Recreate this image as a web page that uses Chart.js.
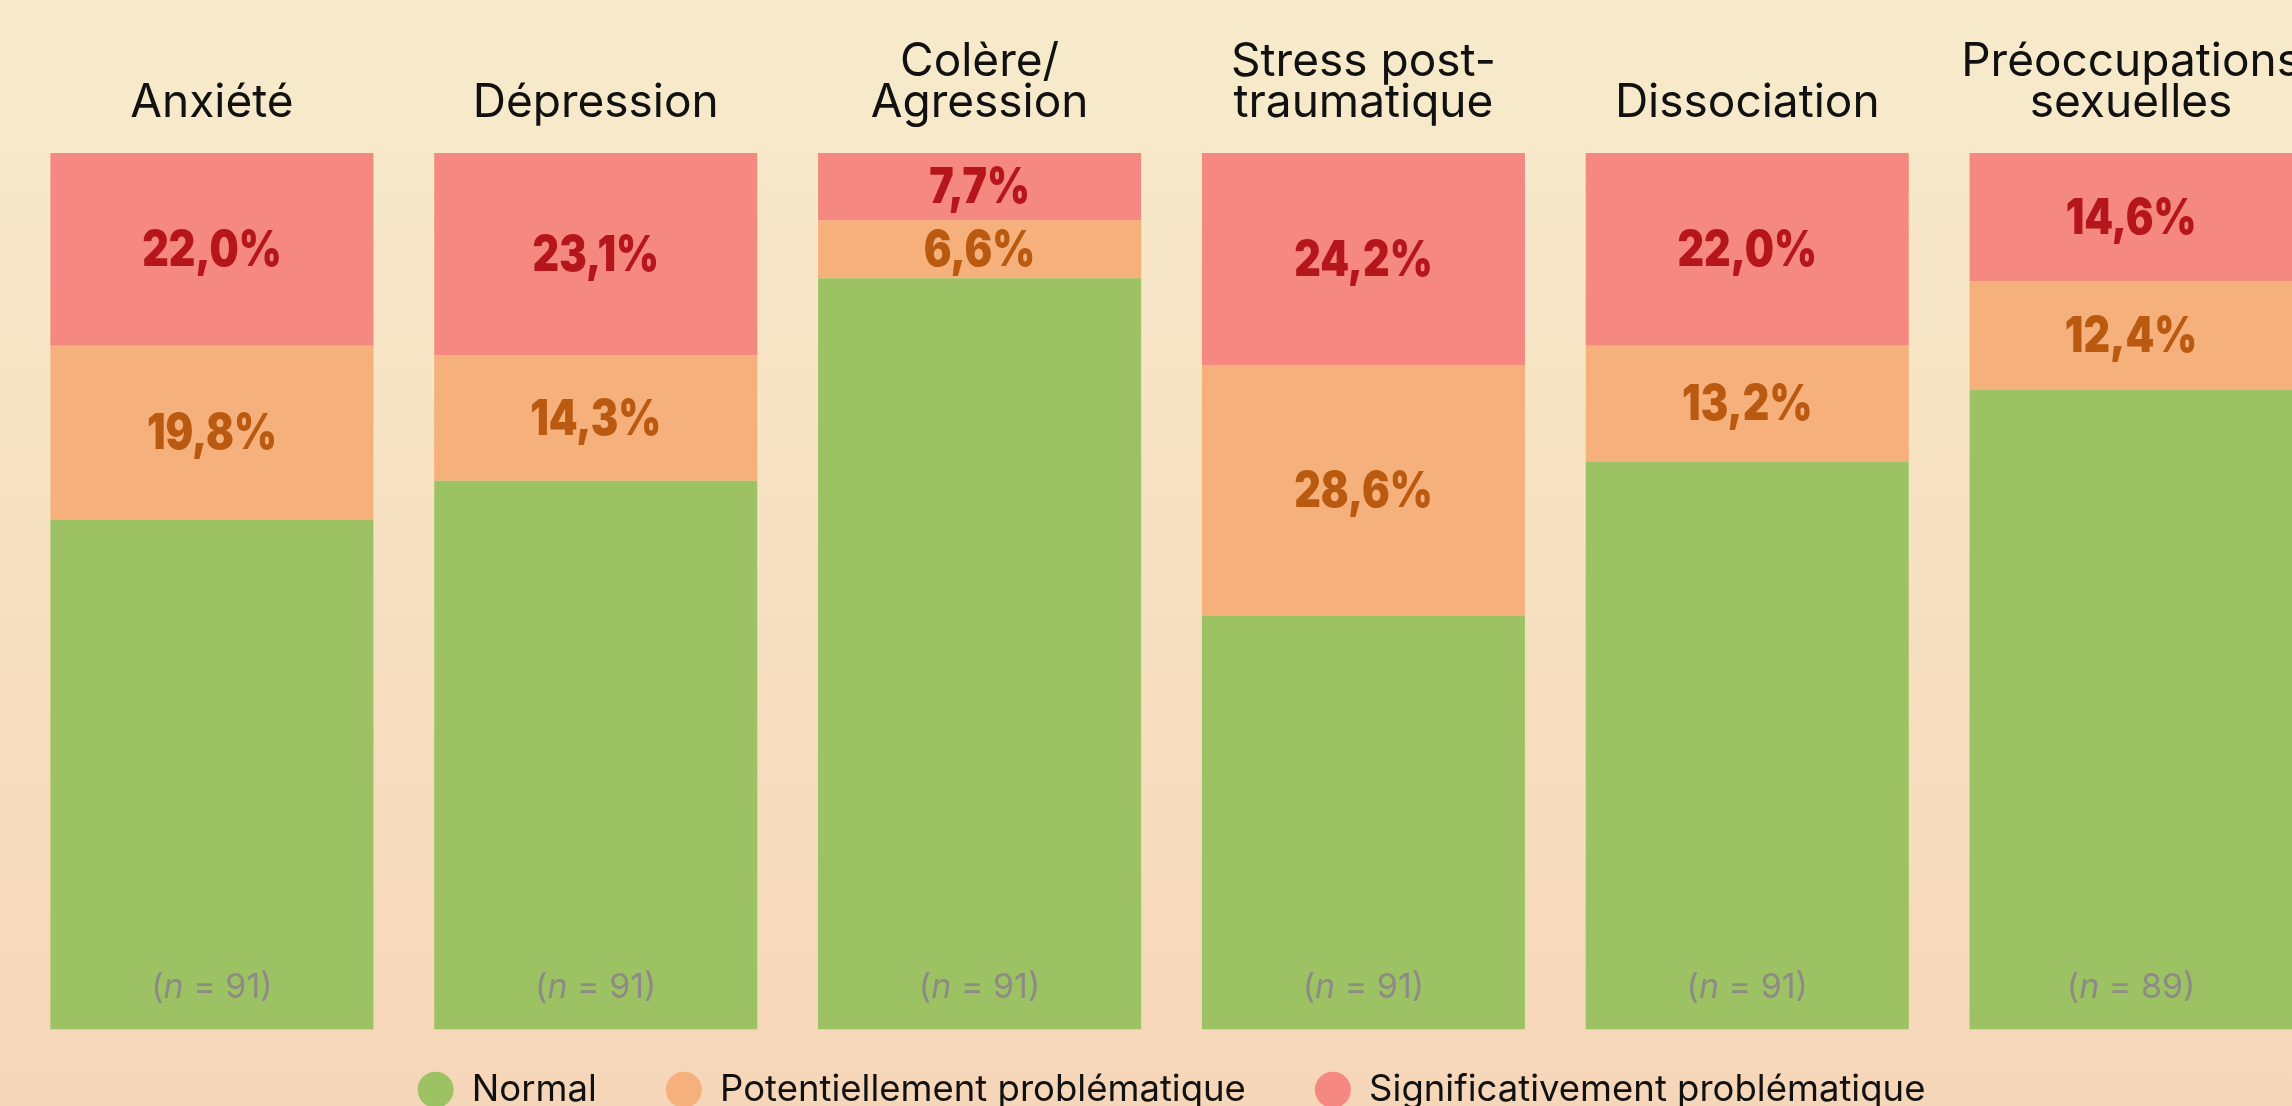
<!DOCTYPE html>
<html lang="fr">
<head>
<meta charset="utf-8">
<title>Problèmes de santé mentale</title>
<script src="https://cdn.jsdelivr.net/npm/chart.js@4.4.1/dist/chart.umd.min.js"></script>
<style>
  html, body { margin: 0; padding: 0; overflow: hidden; }
  body {
    width: 2292px; height: 1106px;
    background: linear-gradient(#f7ebcc 0%, #f6e3c4 40%, #f6d6b8 100%);
  }
  #wrap { width: 2332px; height: 1145px; }
</style>
</head>
<body>
<div id="wrap"><canvas id="chart" width="2332" height="1145"></canvas></div>
<script>
// Catégories (titres sur deux lignes quand il le faut)
const categories = [
    ['Anxiété'],
    ['Dépression'],
    ['Colère/', 'Agression'],
    ['Stress post-', 'traumatique'],
    ['Dissociation'],
    ['Préoccupations', 'sexuelles']
];

// Pourcentages par niveau
const normal = [58.2, 62.6, 85.7, 47.2, 64.8, 73.0];
const potentiel = [19.8, 14.3, 6.6, 28.6, 13.2, 12.4];
const significatif = [22.0, 23.1, 7.7, 24.2, 22.0, 14.6];

// Taille d'échantillon
const effectifs = [91, 91, 91, 91, 91, 89];

const seriesLabels = ['Normal', 'Potentiellement problématique', 'Significativement problématique'];
const fillColors = ['#9cc264', '#f5b07b', '#f58880'];
const textColors = [null, '#b95a10', '#b5161b'];

const fmt = v => v.toFixed(1).replace('.', ',') + '%';

// Pourcentages écrits au centre des segments orange et rouge (police resserrée)
const segmentLabels = {
    id: 'segmentLabels',
    afterDatasetsDraw(chart) {
        const ctx = chart.ctx;
        chart.data.datasets.forEach((ds, i) => {
            if (!textColors[i]) return;
            chart.getDatasetMeta(i).data.forEach((bar, j) => {
                ctx.save();
                ctx.translate(bar.x, (bar.y + bar.base) / 2 + 2);
                ctx.scale(0.84, 1);
                ctx.font = '900 49px Inter, "DejaVu Sans", sans-serif';
                ctx.textAlign = 'center';
                ctx.textBaseline = 'middle';
                ctx.fillStyle = textColors[i];
                ctx.fillText(fmt(ds.data[j]), 0, 0);
                ctx.restore();
            });
        });
    }
};

// (n = ..) en bas de chaque barre
const sampleLabels = {
    id: 'sampleLabels',
    afterDatasetsDraw(chart) {
        const ctx = chart.ctx;
        const yBase = chart.scales.y.getPixelForValue(0) - 42;
        ctx.save();
        ctx.textBaseline = 'middle';
        ctx.textAlign = 'left';
        ctx.fillStyle = '#8e8b86';
        chart.getDatasetMeta(0).data.forEach((bar, j) => {
            const parts = [
                ['34px Inter, sans-serif', '('],
                ['italic 34px Inter, sans-serif', 'n'],
                ['34px Inter, sans-serif', ' = ' + effectifs[j] + ')']
            ];
            let total = 0;
            parts.forEach(p => { ctx.font = p[0]; total += ctx.measureText(p[1]).width; });
            let x = bar.x - total / 2;
            parts.forEach(p => {
                ctx.font = p[0];
                ctx.fillText(p[1], x, yBase);
                x += ctx.measureText(p[1]).width;
            });
        });
        ctx.restore();
    }
};

// remonte la légende sous les barres
const legendLift = {
    id: 'legendLift',
    afterLayout(chart) {
        const lg = chart.legend;
        lg.top -= 27;
        lg.bottom -= 27;
    }
};

const ctx = document.getElementById('chart').getContext('2d');
const chart = new Chart(ctx, {
    type: 'bar',
    data: {
        labels: categories,
        datasets: [normal, potentiel, significatif].map((d, i) => ({
            label: seriesLabels[i],
            data: d,
            backgroundColor: fillColors[i],
            borderWidth: 0,
            barPercentage: 0.8416,
            categoryPercentage: 1
        }))
    },
    options: {
        responsive: false,
        animation: false,
        devicePixelRatio: 1,
        layout: { padding: { left: 20, top: 13, right: 9, bottom: 0 } },
        scales: {
            x: {
                position: 'top',
                stacked: true,
                border: { display: false },
                grid: { display: false, drawTicks: false },
                ticks: {
                    color: '#111111',
                    padding: 29,
                    maxRotation: 0,
                    autoSkip: false,
                    font: { family: 'Inter, "DejaVu Sans", sans-serif', size: 46, lineHeight: '41px' }
                }
            },
            y: {
                display: false,
                stacked: true,
                min: 0,
                max: 100
            }
        },
        plugins: {
            legend: {
                position: 'bottom',
                labels: {
                    usePointStyle: true,
                    pointStyle: 'circle',
                    boxHeight: 25.5,
                    pointStyleWidth: 36,
                    padding: 69,
                    color: '#111111',
                    font: { family: 'Inter, "DejaVu Sans", sans-serif', size: 36.5 }
                }
            },
            tooltip: { enabled: false }
        }
    },
    plugins: [segmentLabels, sampleLabels, legendLift]
});
</script>
</body>
</html>
